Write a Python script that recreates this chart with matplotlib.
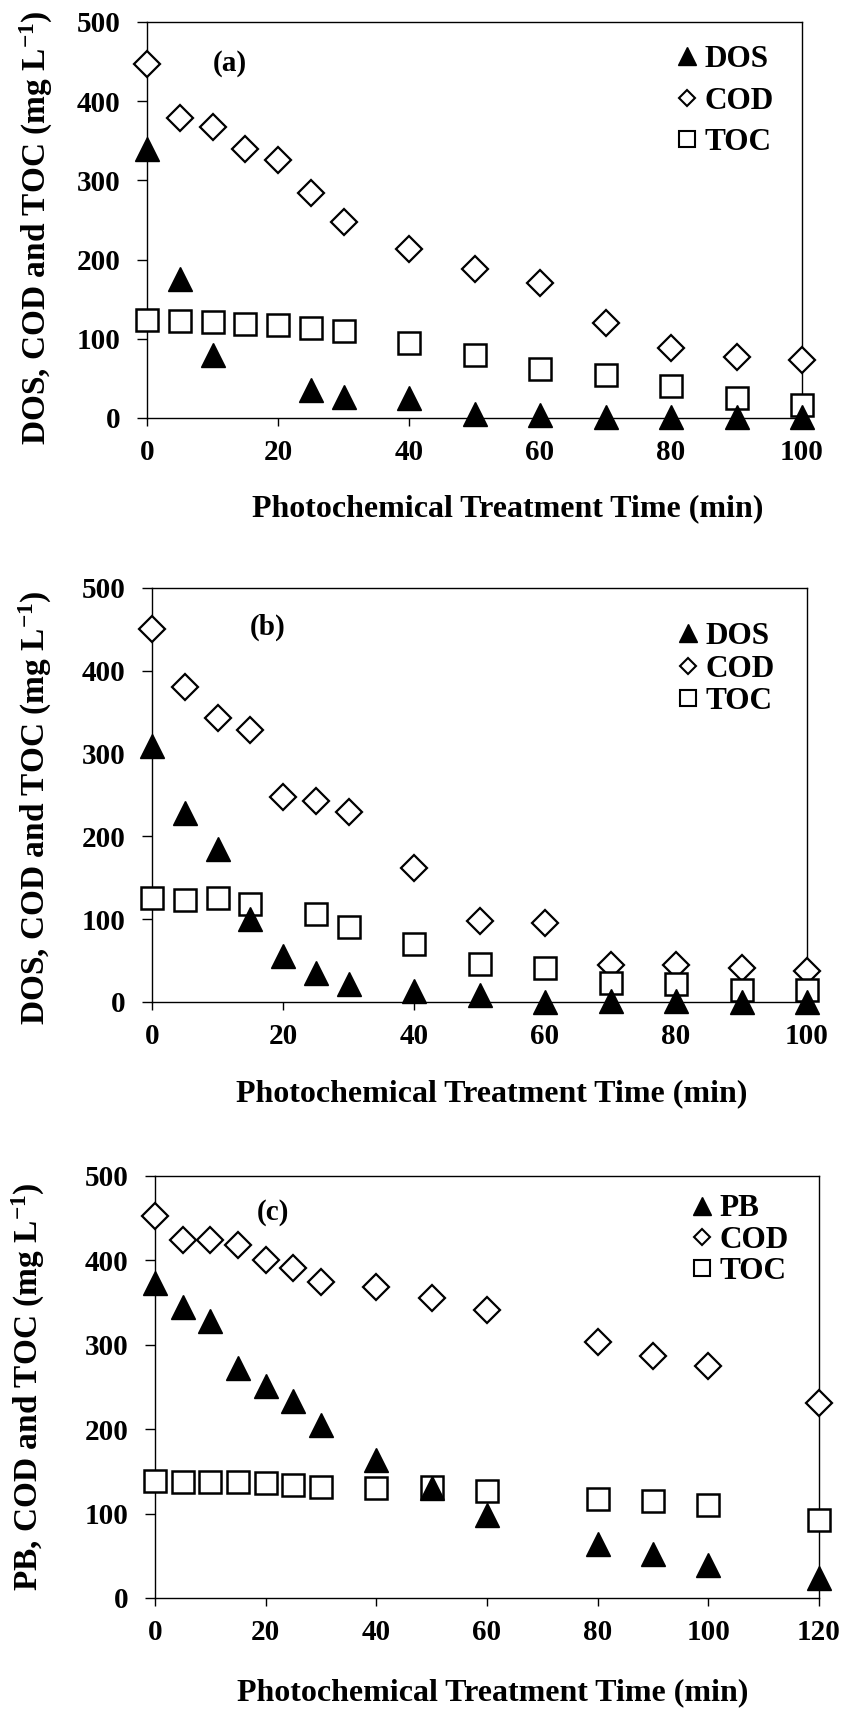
import matplotlib
matplotlib.use("Agg")
import matplotlib.pyplot as plt
from matplotlib.lines import Line2D

plt.rcParams["font.family"] = ["Liberation Serif", "DejaVu Serif"]
plt.rcParams["font.weight"] = "bold"
plt.rcParams["axes.labelweight"] = "bold"
plt.rcParams["mathtext.fontset"] = "custom"
plt.rcParams["mathtext.rm"] = "Liberation Serif:bold"
plt.rcParams["mathtext.bf"] = "Liberation Serif:bold"
plt.rcParams["mathtext.it"] = "Liberation Serif:bold"
plt.rcParams["mathtext.default"] = "bf"

# panel (a)
time_a = [0, 5, 10, 15, 20, 25, 30, 40, 50, 60, 70, 80, 90, 100]
cod_a = [447, 379, 367, 340, 326, 284, 247, 214, 188, 170, 120, 89, 77, 73]
toc_a = [124, 123, 121, 119, 117, 114, 110, 95, 80, 62, 54, 41, 25, 16]
time_a_dos = [0, 5, 10, 25, 30, 40, 50, 60, 70, 80, 90, 100]
dos_a = [340, 176, 79, 35, 27, 25, 5, 4, 1, 1, 1, 1]

# panel (b)
time_b = [0, 5, 10, 15, 20, 25, 30, 40, 50, 60, 70, 80, 90, 100]
cod_b = [451, 381, 343, 329, 248, 243, 229, 162, 98, 96, 45, 45, 41, 38]
dos_b = [309, 228, 185, 100, 56, 35, 22, 13, 8, 0, 1, 1, 0, 0]
time_b_toc = [0, 5, 10, 15, 25, 30, 40, 50, 60, 70, 80, 90, 100]
toc_b = [126, 123, 126, 118, 106, 91, 70, 46, 41, 23, 22, 14, 14]

# panel (c)
time_c = [0, 5, 10, 15, 20, 25, 30, 40, 50, 60, 80, 90, 100, 120]
cod_c = [453, 424, 424, 418, 400, 391, 374, 369, 355, 341, 303, 287, 275, 231]
pb_c = [373, 345, 328, 272, 251, 233, 205, 163, 130, 98, 64, 52, 39, 24]
toc_c = [139, 138, 137, 137, 136, 134, 132, 130, 132, 127, 117, 115, 110, 92]

W, H = 846, 1709
fig = plt.figure(figsize=(W / 100, H / 100), dpi=100)


def make_axes(left, right, top, bottom):
    return fig.add_axes([left / W, 1 - bottom / H, (right - left) / W, (bottom - top) / H])


def panel(ax, xmax, tag, tag_xy, first, legend_xy, spacing, xlab_xy, ylab_xy, ylab):
    ax.set_xlim(0, xmax)
    ax.set_ylim(0, 500)
    ax.set_xticks(range(0, xmax + 1, 20))
    ax.set_yticks(range(0, 501, 100))
    for s in ax.spines.values():
        s.set_linewidth(1.0)
    ax.tick_params(axis="x", direction="out", length=6, width=1.0, labelsize=21, pad=9)
    ax.tick_params(axis="y", direction="out", length=7, width=1.0, labelsize=21, pad=12)
    ax.text(tag_xy[0], tag_xy[1], tag, fontsize=21, ha="center", va="center")
    ax.set_xlabel("Photochemical Treatment Time (min)", fontsize=23, fontweight="bold")
    ax.xaxis.set_label_coords(*xlab_xy)
    ax.xaxis.label.set_va("center")
    ax.set_ylabel(ylab, fontsize=24, fontweight="bold")
    ax.yaxis.set_label_coords(*ylab_xy)
    ax.yaxis.label.set_va("center")
    handles = [
        Line2D([], [], ls="none", marker="^", ms=12.5, mfc="black", mec="black"),
        Line2D([], [], ls="none", marker="D", ms=8, mfc="white", mec="black", mew=1.5),
        Line2D([], [], ls="none", marker="s", ms=12, mfc="white", mec="black", mew=1.5),
    ]
    ax.legend(handles, [first, "COD", "TOC"], loc="center left", bbox_to_anchor=legend_xy,
              frameon=False, fontsize=22.5, handlelength=0.6, handletextpad=0.25,
              borderpad=0, borderaxespad=0, labelspacing=spacing, numpoints=1)


def draw(ax, tc, cod, tt, toc, td, dos):
    ax.plot(tc, cod, ls="none", marker="D", ms=13.5, mfc="white", mec="black", mew=1.6,
            clip_on=False, zorder=3)
    ax.plot(tt, toc, ls="none", marker="s", ms=16.5, mfc="white", mec="black", mew=1.8,
            clip_on=False, zorder=4)
    ax.plot(td, dos, ls="none", marker="^", ms=17, mfc="black", mec="black",
            clip_on=False, zorder=5)


ylab_dos = "DOS, COD and TOC (mg L$^{-1}$)"
ylab_pb = "PB, COD and TOC (mg L$^{-1}$)"

ax_a = make_axes(147, 802, 22, 418)
draw(ax_a, time_a, cod_a, time_a, toc_a, time_a_dos, dos_a)
panel(ax_a, 100, "(a)", (12.7, 448), "DOS", (0.81, 0.80), 0.4,
      (0.551, -0.230), (-0.168, 0.48), ylab_dos)

ax_b = make_axes(152, 807, 588, 1002)
draw(ax_b, time_b, cod_b, time_b_toc, toc_b, time_b, dos_b)
panel(ax_b, 100, "(b)", (17.6, 452), "DOS", (0.804, 0.804), 0.11,
      (0.518, -0.222), (-0.178, 0.47), ylab_dos)

ax_c = make_axes(155, 819, 1176, 1598)
draw(ax_c, time_c, cod_c, time_c, toc_c, time_c, pb_c)
panel(ax_c, 120, "(c)", (21.3, 457), "PB", (0.810, 0.848), 0.07,
      (0.509, -0.225), (-0.19, 0.5), ylab_pb)

fig.savefig("out.png", dpi=100)
